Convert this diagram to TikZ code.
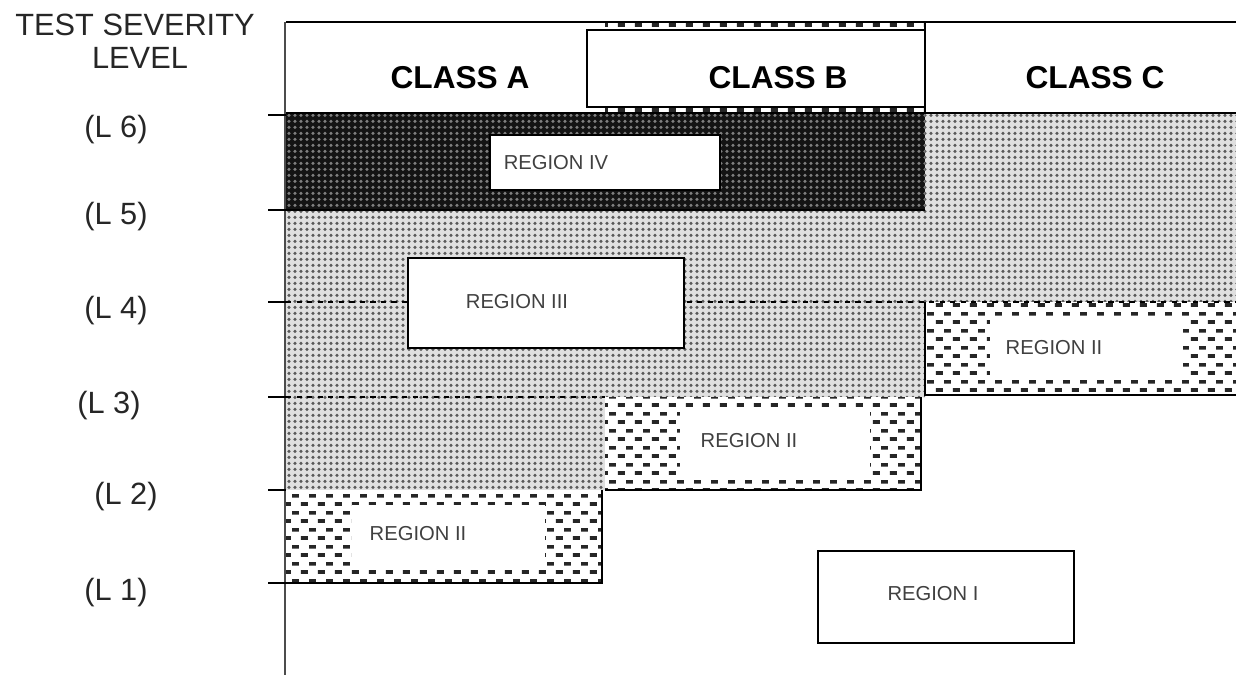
\documentclass[tikz,border=0pt]{standalone}
\usepackage{fontspec}
\setmainfont{Liberation Sans}
\usetikzlibrary{patterns}
% coarse dash bricks for region II
\pgfdeclarepatternformonly{dashbrick}{\pgfqpoint{0pt}{0pt}}{\pgfqpoint{9.5pt}{9.4pt}}{\pgfqpoint{9.5pt}{9.4pt}}{
  \pgfpathrectangle{\pgfqpoint{0.5pt}{1.3pt}}{\pgfqpoint{4pt}{2.1pt}}
  \pgfpathrectangle{\pgfqpoint{5.25pt}{6pt}}{\pgfqpoint{4pt}{2.1pt}}
  \pgfusepath{fill}}
% dot screen for regions III and IV
\pgfdeclarepatternformonly{dotscreen}{\pgfqpoint{0pt}{0pt}}{\pgfqpoint{3.4pt}{3.2pt}}{\pgfqpoint{3.4pt}{3.2pt}}{
  \pgfpathcircle{\pgfqpoint{1.7pt}{1.6pt}}{1pt}
  \pgfusepath{fill}}

\begin{document}
\begin{tikzpicture}[
    x=0.02cm,y=-0.02cm,
    lvllabel/.style={font=\fontsize{17.5}{20}\selectfont,text=black!85},
    classlabel/.style={font=\fontsize{18}{21}\selectfont\bfseries},
    regionlabel/.style={font=\fontsize{11.5}{13}\selectfont,text=black!75},
    regionfour/.style={fill=black!92,postaction={pattern=dotscreen,pattern color=black!50}},
    regionthree/.style={fill=black!12,postaction={pattern=dotscreen,pattern color=black!65}},
    regiontwo/.style={fill=white,postaction={pattern=dashbrick,pattern color=black!85}},
    whitebox/.style={draw,fill=white,line width=0.8pt},
    thickedge/.style={line width=1.6pt}
  ]
    \useasboundingbox (0,0) rectangle (1236,675);
    % shaded severity regions
    \fill[regionthree] (286,210) -- (925,210) -- (925,113) -- (1236,113)
      -- (1236,302) -- (925,302) -- (925,397) -- (605,397) -- (605,490)
      -- (286,490) -- cycle;
    \fill[regionfour] (286,113) rectangle (925,210);
    \fill[regiontwo] (286,490) rectangle (602,583);
    \fill[white] (352,505) rectangle (545,568);
    \fill[regiontwo] (605,397) rectangle (921,490);
    \fill[white] (680,412) rectangle (870,475);
    \fill[regiontwo] (925,302) rectangle (1236,395);
    \fill[white] (990,318) rectangle (1183,380);
    % class header
    \fill[white] (286,22) rectangle (1236,113);
    \fill[regiontwo] (605,22) rectangle (925,113);
    \draw[fill=white,line width=0.7pt] (587,30) rectangle (925,107);
    \draw[line width=0.8pt] (286,22) -- (1236,22);
    \draw[line width=0.8pt] (286,113) -- (1236,113);
    \draw[line width=0.7pt] (925,22) -- (925,113);
    \draw[line width=0.8pt,black!70] (285,22) -- (285,675);
    \draw[dashed,line width=0.7pt] (286,302) -- (1236,302);
    \draw[dashed,line width=0.7pt] (286,397) -- (605,397);
    \draw[thickedge] (286,210) -- (925,210);
    \draw[thickedge] (286,583) -- (602,583) -- (602,490);
    \draw[thickedge] (605,490) -- (921,490) -- (921,397);
    \draw[thickedge] (925,302) -- (925,395) -- (1236,395);
    % labelled boxes
    \draw[whitebox] (490,135) rectangle (720,190);
    \draw[whitebox] (408,258) rectangle (684,348);
    \draw[whitebox] (818,551) rectangle (1074,643);
    \node[classlabel] (classA) at (460,78) {CLASS A};
    \node[classlabel] (classB) at (778,78) {CLASS B};
    \node[classlabel] (classC) at (1095,78) {CLASS C};
    \node[regionlabel] (regIV) at (556,163) {REGION IV};
    \node[regionlabel] (regIII) at (517,302) {REGION III};
    \node[regionlabel] (regIIc) at (1054,348) {REGION II};
    \node[regionlabel] (regIIb) at (749,441) {REGION II};
    \node[regionlabel] (regIIa) at (418,534) {REGION II};
    \node[regionlabel] (regI) at (933,594) {REGION I};
    % severity axis
    \node[lvllabel] (sevtitle) at (135,25) {TEST SEVERITY};
    \node[lvllabel] (sevlevel) at (140,58) {LEVEL};
    \foreach \lvl/\ypos/\xpos/\ylab in {6/115/116/130,5/210/116/217,
        4/302/116/311,3/397/109/406,2/490/126/497,1/583/116/593} {
      \draw[line width=0.8pt] (268,\ypos) -- (286,\ypos);
      \node[lvllabel] (lvl\lvl) at (\xpos,\ylab) {(L \lvl)};
    }
\end{tikzpicture}
\end{document}
